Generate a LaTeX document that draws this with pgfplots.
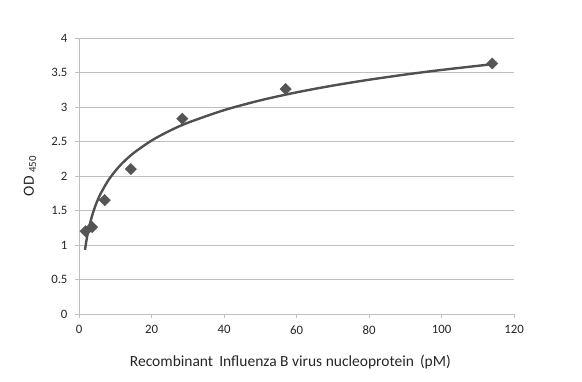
\documentclass[border=0pt]{standalone}
\usepackage{pgfplots}
\pgfplotsset{compat=1.18}
\usepackage{fontspec}
\setmainfont{Carlito}
\definecolor{gridgray}{HTML}{BFBFBF}
\definecolor{curvegray}{HTML}{505050}
\definecolor{markgray}{HTML}{555555}
\definecolor{txtgray}{HTML}{262626}
\begin{document}
\begin{tikzpicture}
\begin{axis}[
  name=ax, at={(0,0)}, anchor=south west,
  scale only axis, width=435bp, height=276bp,
  xmin=0, xmax=120, ymin=0, ymax=4,
  xtick={0,20,...,120}, ytick={0,0.5,...,4},
  yticklabels={0,0.5,1,1.5,2,2.5,3,3.5,4},
  axis lines*=left,
  axis line style={gridgray, line width=0.8bp},
  ymajorgrids, grid style={gridgray, line width=0.8bp},
  tick align=outside, major tick length=4bp,
  major tick style={gridgray, line width=0.8bp},
  /pgf/number format/assume math mode=true,
  tick label style={font=\fontsize{12.8bp}{14bp}\selectfont, text=txtgray},
  xticklabel style={yshift=-4bp},
  yticklabel style={xshift=-4bp},
  xlabel={Recombinant\ \,Influenza B virus nucleoprotein\ \,(pM)},
  ylabel={OD \textsubscript{450}},
  every axis x label/.style={at={(axis description cs:0.486,-0.174)}, anchor=center,
     font=\fontsize{15.5bp}{17bp}\selectfont, text=txtgray},
  every axis y label/.style={at={(axis description cs:-0.1126,0.5)}, rotate=90, anchor=center,
     font=\fontsize{15.5bp}{17bp}\selectfont, text=txtgray},
  clip=false,
]
\addplot[curvegray, line width=2.4bp, smooth, no markers] coordinates {
(1.66,0.930) (2,1.049) (2.5,1.191) (3,1.307) (4,1.490) (5,1.632) (6,1.748)
(8,1.931) (10,2.072) (12,2.188) (15,2.330) (20,2.513) (25,2.655) (30,2.771)
(40,2.954) (50,3.096) (60,3.212) (70,3.310) (80,3.395) (90,3.470) (100,3.537) (114,3.620)
};
\addplot[only marks, mark=square*, mark size=4bp, mark options={rotate=45, fill=markgray, draw=markgray}] coordinates {
(1.8,1.20) (3.6,1.26) (7.1,1.65) (14.3,2.10) (28.5,2.83) (57,3.26) (114,3.63)
};
\end{axis}
\pgfresetboundingbox
\path (ax.south west) ++(-79bp,-68bp) rectangle ([shift={(68bp,38bp)}]ax.north east);
\end{tikzpicture}
\end{document}
